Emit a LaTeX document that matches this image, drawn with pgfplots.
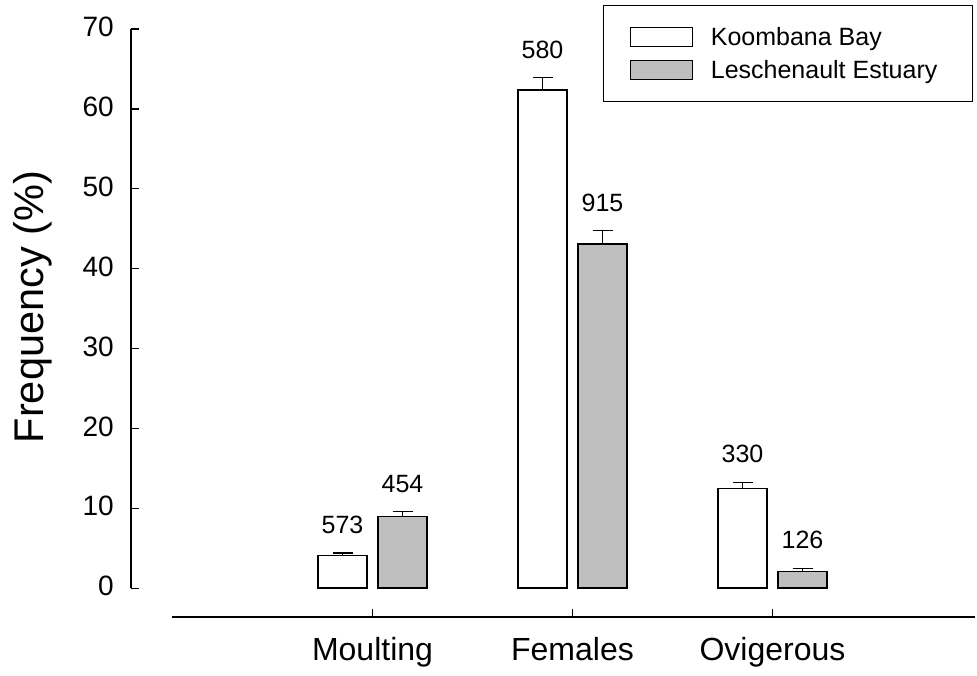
\documentclass[border=0pt]{standalone}
\usepackage{pgfplots}
\pgfplotsset{compat=1.18}
\usepackage{pgfplotstable}
\usepackage{fontspec}
\setmainfont{Liberation Sans}

\pgfplotstableread{
x y e top lab
0 4.1 0.3 4.4 573
1 62.4 1.5 63.9 580
2 12.5 0.75 13.25 330
}\koombana
\pgfplotstableread{
x y e top lab
0 9.0 0.6 9.6 454
1 43.1 1.65 44.75 915
2 2.1 0.4 2.5 126
}\lesch

\begin{document}
\begin{tikzpicture}
\begin{axis}[
  scale only axis, width=844pt, height=588pt,
  xmin=-1.2075, xmax=3.0125, ymin=-3.6, ymax=70,
  ybar, bar width=49pt,
  axis line style={draw=none},
  xtick={0,1,2}, xticklabels={Moulting,Females,Ovigerous},
  ytick={0,10,...,70},
  xtick pos=bottom, ytick pos=left, tick align=inside,
  major tick length=8pt,
  tick style={black, line width=1.4pt},
  /pgf/number format/assume math mode=true,
  yticklabel style={font=\fontsize{28}{28}\selectfont, inner sep=0pt, anchor=east, xshift=-17pt, yshift=2pt},
  xticklabel style={font=\fontsize{32}{32}\selectfont, inner sep=0pt, anchor=north, yshift=-20pt},
  ylabel={Frequency (\%)},
  every axis y label/.style={at={(axis description cs:-0.0936,0.527)}, rotate=90, anchor=south, inner sep=0pt, font=\fontsize{41.5}{41.5}\selectfont},
  clip=false,
  legend style={at={(axis description cs:1,1)}, anchor=north east, xshift=-2pt, yshift=24pt,
    draw=black, line width=1.2pt, inner xsep=26pt, inner ysep=20pt,
    font=\fontsize{25}{25}\selectfont, row sep=9pt,
    /tikz/every odd column/.append style={column sep=16pt}},
  legend cell align=left,
]
\addplot[bar shift=-30pt, fill=white, draw=black, line width=1.6pt,
  legend image code/.code={\draw[fill=white, draw=black, line width=1.2pt] (0pt,-9.5pt) rectangle (62pt,9.5pt);},
  error bars/.cd, y dir=plus, y explicit, error mark=|,
  error bar style={line width=1.4pt, black},
  error mark options={mark size=10pt, line width=1.4pt, black}]
  table[x=x, y=y, y error=e]{\koombana};
\addlegendentry{Koombana Bay}
\addplot[bar shift=30pt, fill=black!25, draw=black, line width=1.6pt,
  legend image code/.code={\draw[fill=black!25, draw=black, line width=1.2pt] (0pt,-9.5pt) rectangle (62pt,9.5pt);},
  error bars/.cd, y dir=plus, y explicit, error mark=|,
  error bar style={line width=1.4pt, black},
  error mark options={mark size=10pt, line width=1.4pt, black}]
  table[x=x, y=y, y error=e]{\lesch};
\addlegendentry{Leschenault Estuary\kern7pt}
\addplot[bar shift=-30pt, draw=none, fill=none, forget plot, nodes near coords, point meta=explicit symbolic,
  nodes near coords style={font=\fontsize{25}{25}\selectfont, anchor=south, inner sep=0pt, yshift=19pt}]
  table[x=x, y=top, meta=lab]{\koombana};
\addplot[bar shift=30pt, draw=none, fill=none, forget plot, nodes near coords, point meta=explicit symbolic,
  nodes near coords style={font=\fontsize{25}{25}\selectfont, anchor=south, inner sep=0pt, yshift=19pt}]
  table[x=x, y=top, meta=lab]{\lesch};
\draw[line width=1.6pt] (axis cs:-1.2075,0) -- (axis cs:-1.2075,70);
\draw[line width=1.6pt] (axis cs:-1.0025,-3.6) -- (axis cs:3.0125,-3.6);
\coordinate (O) at (rel axis cs:0,0);
\end{axis}
\pgfresetboundingbox
\path[use as bounding box] (O) ++(-131pt,-58pt) rectangle ++(977pt,675pt);
\end{tikzpicture}
\end{document}
